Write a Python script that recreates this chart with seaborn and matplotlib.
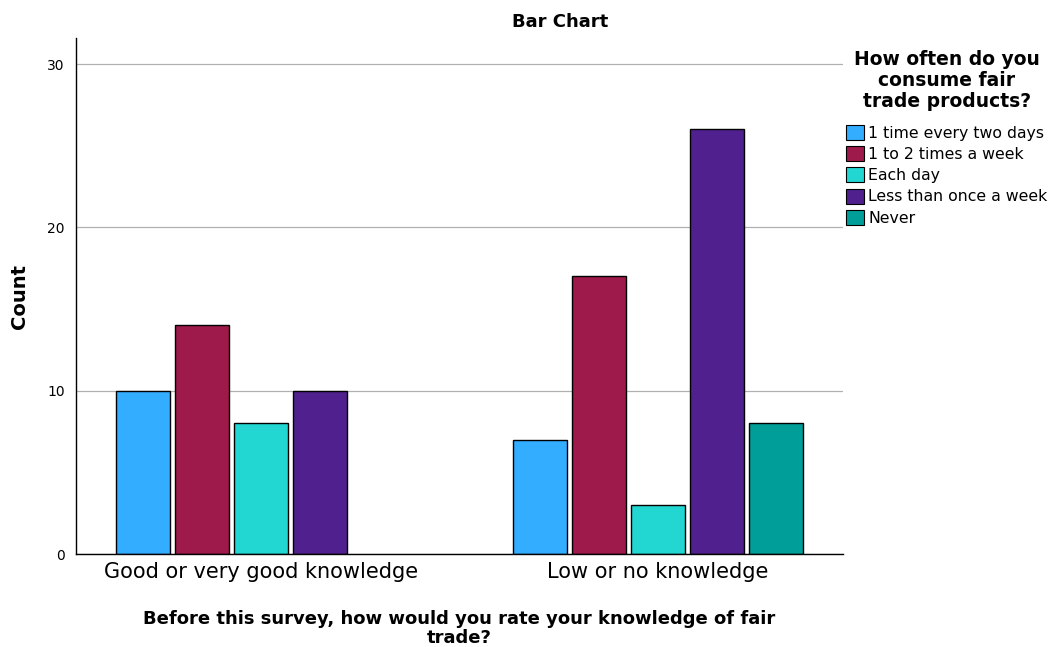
import matplotlib
matplotlib.use("Agg")
import matplotlib.pyplot as plt
import seaborn as sns
import pandas as pd
from matplotlib.patches import Patch

knowledge = ["Good or very good knowledge", "Low or no knowledge"]
frequency = ["1 time every two days", "1 to 2 times a week", "Each day",
             "Less than once a week", "Never"]
good_counts = [10, 14, 8, 10, None]
low_counts = [7, 17, 3, 26, 8]
colors = ["#33adff", "#9e1a4a", "#22d6d2", "#50208f", "#009e98"]

rows = []
for k, vals in zip(knowledge, [good_counts, low_counts]):
    for f, v in zip(frequency, vals):
        if v is not None:
            rows.append({"Knowledge": k, "Frequency": f, "Count": v})
df = pd.DataFrame(rows)

sns.set_style("white")
plt.rcParams["font.family"] = ["DejaVu Sans"]
plt.rcParams["text.color"] = "black"
plt.rcParams["axes.labelcolor"] = "black"
plt.rcParams["xtick.color"] = "black"
plt.rcParams["ytick.color"] = "black"

fig = plt.figure(figsize=(10.64, 6.47), dpi=100)
ax = fig.add_axes([0.0714, 0.1437, 0.7209, 0.7976])

sns.barplot(data=df, x="Knowledge", y="Count", hue="Frequency",
            order=knowledge, hue_order=frequency, palette=colors,
            width=0.743, gap=0.085, edgecolor="black", linewidth=1,
            errorbar=None, ax=ax, legend=False, saturation=1)

ax.set_xlim(-0.466, 1.466)
ax.set_ylim(0, 31.6)
ax.set_yticks([0, 10, 20, 30])
ax.yaxis.grid(True, color="#b0b0b0", linewidth=0.9)
ax.set_axisbelow(True)
for s in ["top", "right"]:
    ax.spines[s].set_visible(False)
for s in ["left", "bottom"]:
    ax.spines[s].set_color("black")
    ax.spines[s].set_linewidth(1)
ax.tick_params(axis="y", length=0, labelsize=10, pad=8)
ax.tick_params(axis="x", length=0, labelsize=15, pad=6)

fig.text(0.526, 0.966, "Bar Chart", fontsize=13, fontweight="bold",
         ha="center", va="center")
ax.set_ylabel("")
fig.text(20 / 1064, 1 - 296 / 647, "Count", fontsize=14, fontweight="bold",
         rotation=90, ha="center", va="center")
ax.set_xlabel("Before this survey, how would you rate your knowledge of fair\ntrade?",
              fontsize=13, fontweight="bold", labelpad=20, linespacing=1.05)

handles = [Patch(facecolor=c, edgecolor="black", linewidth=0.8) for c in colors]
leg = ax.legend(handles, frequency,
                title="How often do you\nconsume fair\ntrade products?",
                loc="upper left", bbox_to_anchor=(0.986, 1.005), frameon=False,
                fontsize=11.3, title_fontproperties={"weight": "bold", "size": 13.5},
                handlelength=1.1, handleheight=1.1, handletextpad=0.3,
                labelspacing=0.34, borderaxespad=0.5)
leg._legend_box.align = "center"
leg._legend_box.sep = 10
leg.get_title().set_multialignment("center")
leg.get_title().set_linespacing(1.15)

fig.savefig("out.png", dpi=100)
